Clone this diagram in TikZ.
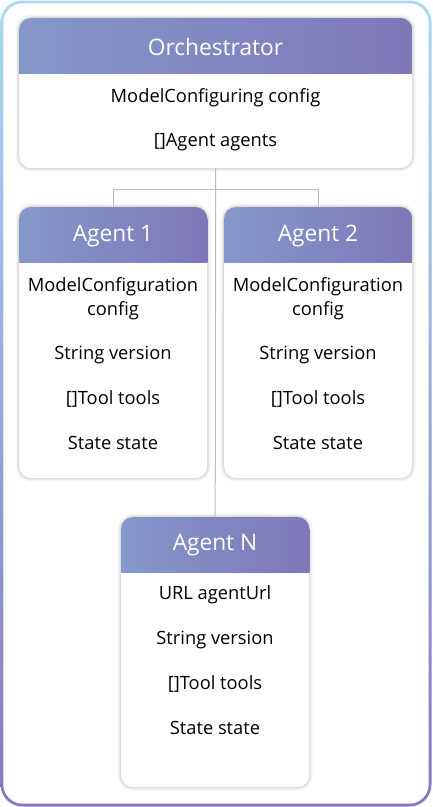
\documentclass[tikz,border=0pt]{standalone}
\usepackage{fontspec}
\setmainfont{Open Sans}
\definecolor{framet}{HTML}{A9DAF3}
\definecolor{frameb}{HTML}{8676BE}
\definecolor{hl}{HTML}{8598CA}
\definecolor{hr}{HTML}{7F77B7}
\definecolor{conncol}{HTML}{BFBFBF}
\tikzset{
  card/.style={fill=white, rounded corners=12pt, inner sep=0pt, anchor=north west,
    preaction={draw=black, draw opacity=0.04, line width=7pt},
    preaction={draw=black, draw opacity=0.05, line width=4pt},
    preaction={draw=black, draw opacity=0.06, line width=2pt}},
  headtxt/.style={font=\fontsize{22.7}{26}\selectfont, text=white, inner sep=0pt},
  bodytxt/.style={font=\fontsize{18.3}{24}\selectfont, text=black, inner sep=0pt, align=center},
  conn/.style={draw=conncol, line width=1pt},
}
\newcommand\cardhead[1]{%
  \begin{scope}
    \clip[rounded corners=12pt] (#1.north west) rectangle (#1.south east);
    \shade[left color=hl, right color=hr] (#1.north west) rectangle ([yshift=-55pt]#1.north east);
  \end{scope}}
\begin{document}
\begin{tikzpicture}[x=1pt, y=-1pt]
\useasboundingbox (0,0) rectangle (432,807);
% outer frame
\shade[top color=framet, bottom color=frameb, rounded corners=22pt] (0.5,0.5) rectangle (431.5,806.5);
\fill[white, rounded corners=19.5pt] (3.3,3.3) rectangle (428.7,803.7);
% cards
\node[card, minimum width=393pt, minimum height=150pt] (orch) at (19,18) {};
\node[card, minimum width=188pt, minimum height=271pt] (ag1) at (19,207) {};
\node[card, minimum width=188pt, minimum height=271pt] (ag2) at (224,207) {};
\node[card, minimum width=188pt, minimum height=270pt] (agN) at (121,517) {};
% connectors
\coordinate (hub) at (215.5,189);
\draw[conn] (orch.south) -- (agN.north);
\draw[conn] (ag1.north) -- (ag1.north |- hub) -- (ag2.north |- hub) -- (ag2.north);
% headers
\cardhead{orch}
\cardhead{ag1}
\cardhead{ag2}
\cardhead{agN}
\node[headtxt] (orchT) at (215.5,46.5) {Orchestrator};
\node[headtxt] (ag1T) at (113,236) {Agent 1};
\node[headtxt] (ag2T) at (318,236) {Agent 2};
\node[headtxt] (agNT) at (215,545.5) {Agent N};
% orchestrator fields
\node[bodytxt] (o1) at (215.5,98) {ModelConfiguring config};
\node[bodytxt] (o2) at (215.5,142) {[]Agent agents};
% agent 1 fields
\node[bodytxt] (a11) at (113,298.5) {ModelConfiguration\\config};
\node[bodytxt] (a12) at (113,354.5) {String version};
\node[bodytxt] (a13) at (113,398.5) {[]Tool tools};
\node[bodytxt] (a14) at (113,442.5) {State state};
% agent 2 fields
\node[bodytxt] (a21) at (318,298.5) {ModelConfiguration\\config};
\node[bodytxt] (a22) at (318,354.5) {String version};
\node[bodytxt] (a23) at (318,398.5) {[]Tool tools};
\node[bodytxt] (a24) at (318,442.5) {State state};
% agent N fields
\node[bodytxt] (an1) at (215,594.5) {URL agentUrl};
\node[bodytxt] (an2) at (215,639.5) {String version};
\node[bodytxt] (an3) at (215,683.5) {[]Tool tools};
\node[bodytxt] (an4) at (215,727.5) {State state};
\end{tikzpicture}
\end{document}
